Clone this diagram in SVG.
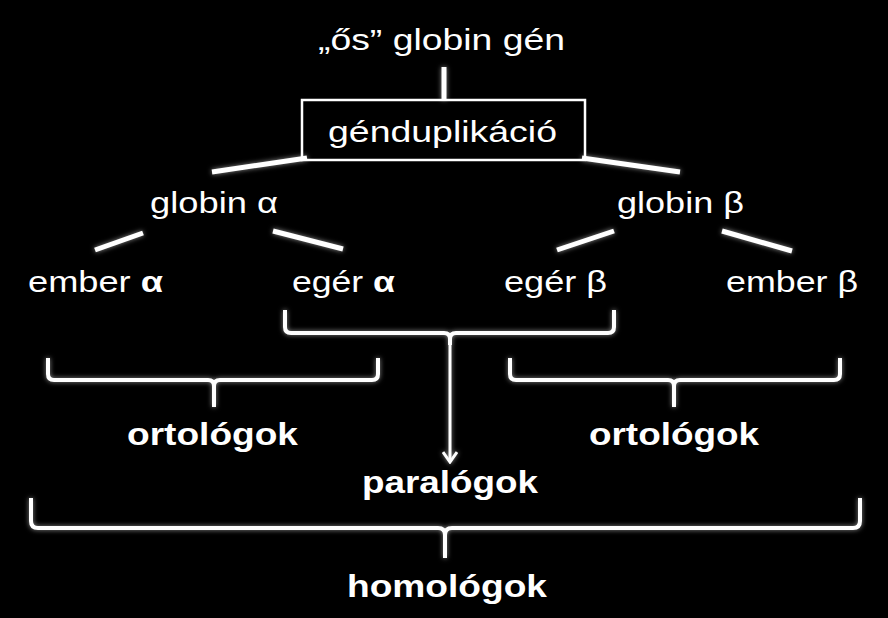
<svg xmlns="http://www.w3.org/2000/svg" width="888" height="618" viewBox="0 0 888 618">
<style>
.t{font-family:"Liberation Sans",Arial,sans-serif;font-size:30px;fill:#fff}
.b{font-family:"Liberation Sans",Arial,sans-serif;font-size:32px;font-weight:bold;fill:#fff}
.ln{stroke:#fff;stroke-width:5;fill:none;stroke-linecap:butt}
.br{stroke:#fff;stroke-width:4;fill:none;stroke-linejoin:round}
</style>
<defs>
<filter id="glow" x="-10%" y="-10%" width="120%" height="120%">
<feGaussianBlur in="SourceAlpha" stdDeviation="2.5" result="bl"/>
<feFlood flood-color="#fff" flood-opacity="0.55"/>
<feComposite in2="bl" operator="in" result="g"/>
<feMerge><feMergeNode in="g"/><feMergeNode in="SourceGraphic"/></feMerge>
</filter>
<marker id="arr" markerWidth="16" markerHeight="16" refX="14" refY="8" orient="auto" markerUnits="userSpaceOnUse" viewBox="0 0 16 16">
<polyline points="4,1 14,8 4,15" fill="none" stroke="#fff" stroke-width="3"/>
</marker>
</defs>
<rect width="888" height="618" fill="#000"/>
<g id="connectors" filter="url(#glow)">
<line class="ln" x1="444" y1="67" x2="444" y2="100"/>
<line class="ln" x1="212" y1="172" x2="307" y2="158"/>
<line class="ln" x1="582" y1="158" x2="680" y2="172"/>
<line class="ln" x1="95" y1="250" x2="143" y2="233"/>
<line class="ln" x1="273" y1="231" x2="343" y2="249"/>
<line class="ln" x1="557" y1="250" x2="614" y2="231"/>
<line class="ln" x1="722" y1="231" x2="792" y2="251"/>
<path class="br" d="M285,310 V327 Q285,333 291,333 H444 Q450,333 450,339 V345 M450,339 Q450,333 456,333 H608 Q614,333 614,327 V310"/>
<line x1="450" y1="340" x2="450" y2="462" stroke="#fff" stroke-width="3" marker-end="url(#arr)"/>
<path class="br" d="M48,358 V374 Q48,380 54,380 H208 Q214,380 214,386 V407 M214,386 Q214,380 220,380 H372 Q378,380 378,374 V358"/>
<path class="br" d="M510,358 V374 Q510,380 516,380 H668 Q674,380 674,386 V407 M674,386 Q674,380 680,380 H834 Q840,380 840,374 V358"/>
<path class="br" d="M31,498 V521 Q31,528 38,528 H438 Q445,528 445,535 V558 M445,535 Q445,528 452,528 H853 Q860,528 860,521 V498"/>
</g>
<g id="n-ancestor"><text class="t" x="318" y="50" textLength="247" lengthAdjust="spacingAndGlyphs">„ős” globin gén</text></g>
<g id="n-dup"><rect x="302" y="100" width="283" height="60" fill="none" stroke="#fff" stroke-width="2.5"/>
<text class="t" x="328" y="142" textLength="229" lengthAdjust="spacingAndGlyphs">génduplikáció</text></g>
<g id="n-globin-a"><text class="t" x="150" y="213" textLength="128" lengthAdjust="spacingAndGlyphs">globin α</text></g>
<g id="n-globin-b"><text class="t" x="617" y="213" textLength="127" lengthAdjust="spacingAndGlyphs">globin β</text></g>
<g id="n-ember-a"><text class="t" x="28" y="292" textLength="135" lengthAdjust="spacingAndGlyphs">ember <tspan font-weight="bold">α</tspan></text></g>
<g id="n-eger-a"><text class="t" x="292" y="292" textLength="103" lengthAdjust="spacingAndGlyphs">egér <tspan font-weight="bold">α</tspan></text></g>
<g id="n-eger-b"><text class="t" x="504" y="292" textLength="103" lengthAdjust="spacingAndGlyphs">egér β</text></g>
<g id="n-ember-b"><text class="t" x="726" y="292" textLength="132" lengthAdjust="spacingAndGlyphs">ember β</text></g>
<g id="n-ort1"><text class="b" x="127" y="445" textLength="171" lengthAdjust="spacingAndGlyphs">ortológok</text></g>
<g id="n-ort2"><text class="b" x="589" y="445" textLength="170" lengthAdjust="spacingAndGlyphs">ortológok</text></g>
<g id="n-para"><text class="b" x="362" y="493" textLength="176" lengthAdjust="spacingAndGlyphs">paralógok</text></g>
<g id="n-homo"><text class="b" x="347" y="597" textLength="200" lengthAdjust="spacingAndGlyphs">homológok</text></g>
</svg>
